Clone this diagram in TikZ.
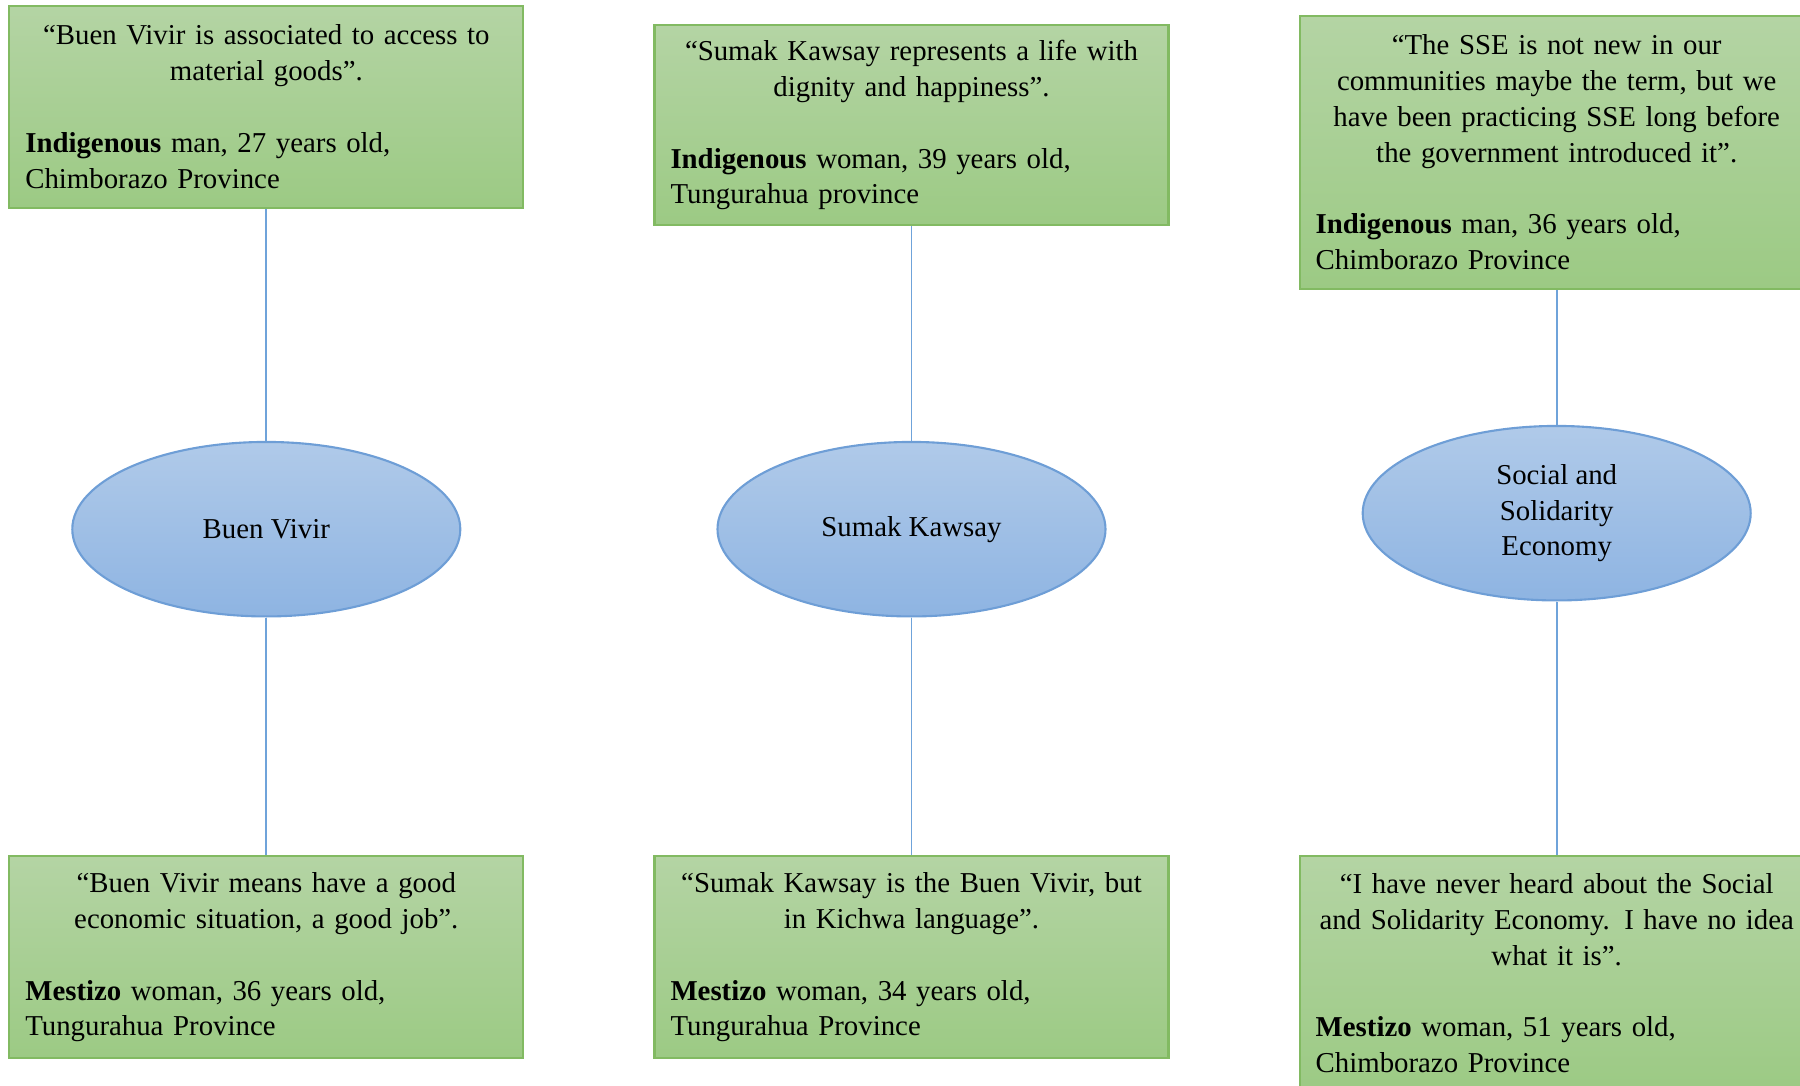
\documentclass[tikz,border=0pt]{standalone}
\usepackage{fontspec}
\setmainfont{Liberation Serif}
\usepackage{tikz}
\usetikzlibrary{positioning,shapes.geometric}
\definecolor{LeafTop}{HTML}{B4D4A4}
\definecolor{LeafBot}{HTML}{9CCA84}
\definecolor{LeafLine}{HTML}{82BA62}
\definecolor{SkyTop}{HTML}{B0CAE9}
\definecolor{SkyBot}{HTML}{8EB4E2}
\definecolor{SkyLine}{HTML}{6E9ED6}
\definecolor{Wire}{HTML}{6FA3DA}

\begin{document}
\begin{tikzpicture}[
    quote/.style={draw=LeafLine, line width=0.6pt, top color=LeafTop, bottom color=LeafBot,
      text width=4.82cm, inner xsep=0.16cm, inner ysep=0pt, anchor=north, align=left,
      font=\fontsize{8.2}{10.2}\selectfont},
    concept/.style={ellipse, draw=SkyLine, line width=0.6pt, top color=SkyTop, bottom color=SkyBot,
      minimum width=3.88cm, minimum height=1.745cm, inner sep=0pt, align=center,
      font=\fontsize{8.2}{10.2}\selectfont},
    link/.style={draw=Wire, line width=0.5pt}
  ]
    \useasboundingbox (0,0) rectangle (18,-10.86);
    % concepts
    \node[concept] (bv) at (2.663,-5.292) {Buen Vivir};
    \node[concept] (sk) at (9.115,-5.292) {Sumak Kawsay};
    \node[concept] (sse) at (15.567,-5.132) {Social and\\Solidarity\\Economy};
    % indigenous voices
    \node[quote, minimum height=2.02cm] (q1) at (2.663,-0.046) {
      {\centering ``Buen Vivir is associated to access to\\ material goods''.\par}
      \vspace{\baselineskip}
      \textbf{Indigenous} man, 27 years old,\\ Chimborazo Province
    };
    \node[quote, minimum height=2.0cm] (q2) at (9.115,-0.241) {
      {\centering ``Sumak Kawsay represents a life with\\ dignity and happiness''.\par}
      \vspace{\baselineskip}
      \textbf{Indigenous} woman, 39 years old,\\ Tungurahua province
    };
    \node[quote, minimum height=2.73cm] (q3) at (15.567,-0.149) {
      {\centering ``The SSE is not new in our\\ communities maybe the term, but we\\ have been practicing SSE long before\\ the government introduced it''.\par}
      \vspace{\baselineskip}
      \textbf{Indigenous} man, 36 years old,\\ Chimborazo Province
    };
    % mestizo voices
    \node[quote, minimum height=2.02cm] (q4) at (2.663,-8.553) {
      {\centering ``Buen Vivir means have a good\\ economic situation, a good job''.\par}
      \vspace{\baselineskip}
      \textbf{Mestizo} woman, 36 years old,\\ Tungurahua Province
    };
    \node[quote, minimum height=2.02cm] (q5) at (9.115,-8.553) {
      {\centering ``Sumak Kawsay is the Buen Vivir, but\\ in Kichwa language''.\par}
      \vspace{\baselineskip}
      \textbf{Mestizo} woman, 34 years old,\\ Tungurahua Province
    };
    \node[quote, minimum height=2.34cm] (q6) at (15.567,-8.553) {
      {\centering ``I have never heard about the Social\\ and Solidarity Economy. I have no idea\\ what it is''.\par}
      \vspace{\baselineskip}
      \textbf{Mestizo} woman, 51 years old,\\ Chimborazo Province
    };
    \draw[link] (q1.south) -- (bv.north);
    \draw[link] (q2.south) -- (sk.north);
    \draw[link] (q3.south) -- (sse.north);
    \draw[link] (bv.south) -- (q4.north);
    \draw[link] (sk.south) -- (q5.north);
    \draw[link] (sse.south) -- (q6.north);
  \end{tikzpicture}
\end{document}
